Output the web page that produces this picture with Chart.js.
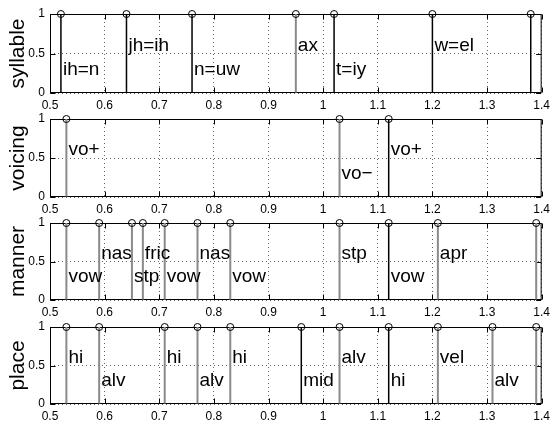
<!DOCTYPE html>
<html>
<head>
<meta charset="utf-8">
<script src="https://cdn.jsdelivr.net/npm/chart.js@4/dist/chart.umd.min.js"></script>
<style>
  body { margin: 0; background: #fff; width: 555px; height: 421px; position: relative; overflow: hidden; }
  .panel { position: absolute; left: 0; }
</style>
</head>
<body>
<div class="panel" style="top:0px"><canvas id="c-syllable" width="555" height="115"></canvas></div>
<div class="panel" style="top:105px"><canvas id="c-voicing" width="555" height="114"></canvas></div>
<div class="panel" style="top:209px"><canvas id="c-manner" width="555" height="113"></canvas></div>
<div class="panel" style="top:313px"><canvas id="c-place" width="555" height="113"></canvas></div>
<script>
// --- DATA ---
const xTicks = [0.5, 0.6, 0.7, 0.8, 0.9, 1.0, 1.1, 1.2, 1.3, 1.4];
const yTicks = [0, 0.5, 1];

// boundary times, text shown right of each boundary, text height (0.3 / 0.6), stem shade (k = black, g = gray)
const syllableTimes  = [0.52, 0.64, 0.76, 0.95, 1.02, 1.20, 1.38];
const syllableLabels = ['ih=n', 'jh=ih', 'n=uw', 'ax', 't=iy', 'w=el', ''];
const syllableLevels = [0.3, 0.6, 0.3, 0.6, 0.3, 0.6, 0.3];
const syllableShade  = ['k', 'k', 'k', 'g', 'k', 'k', 'k'];

const voicingTimes  = [0.53, 1.03, 1.12];
const voicingLabels = ['vo+', 'vo\u2212', 'vo+'];
const voicingLevels = [0.6, 0.3, 0.6];
const voicingShade  = ['g', 'g', 'k'];

const mannerTimes  = [0.53, 0.59, 0.65, 0.67, 0.71, 0.77, 0.83, 1.03, 1.12, 1.21, 1.39];
const mannerLabels = ['vow', 'nas', 'stp', 'fric', 'vow', 'nas', 'vow', 'stp', 'vow', 'apr', ''];
const mannerLevels = [0.3, 0.6, 0.3, 0.6, 0.3, 0.6, 0.3, 0.6, 0.3, 0.6, 0.3];
const mannerShade  = ['g', 'g', 'g', 'g', 'g', 'g', 'g', 'g', 'k', 'g', 'g'];

const placeTimes  = [0.53, 0.59, 0.71, 0.77, 0.83, 0.96, 1.03, 1.12, 1.21, 1.31, 1.39];
const placeLabels = ['hi', 'alv', 'hi', 'alv', 'hi', 'mid', 'alv', 'hi', 'vel', 'alv', ''];
const placeLevels = [0.6, 0.3, 0.6, 0.3, 0.6, 0.3, 0.6, 0.3, 0.6, 0.3, 0.3];
const placeShade  = ['g', 'g', 'g', 'g', 'g', 'k', 'g', 'k', 'g', 'g', 'g'];

// --- STYLE ---
const FONT = '"Liberation Sans", Arial, Helvetica, sans-serif';
const GRAY = '#8a8a8a';
const BLACK = '#000000';

function makeTier(canvasId, title, times, labels, levels, shade) {
    // box + inward ticks, drawn under the stems
    const boxPlugin = {
        id: 'box',
        beforeDatasetsDraw(chart) {
            const { ctx, chartArea: a, scales } = chart;
            const L = a.left + 0.5, R = a.right - 0.5, T = a.top + 0.5, B = a.bottom - 0.5;
            ctx.save();
            ctx.strokeStyle = BLACK;
            ctx.lineWidth = 1;
            ctx.strokeRect(L, T, R - L, B - T);
            ctx.beginPath();
            scales.x.ticks.forEach(t => {
                const px = Math.round(scales.x.getPixelForValue(t.value)) + 0.5;
                ctx.moveTo(px, B); ctx.lineTo(px, B - 5);
                ctx.moveTo(px, T); ctx.lineTo(px, T + 5);
            });
            scales.y.ticks.forEach(t => {
                const py = Math.round(scales.y.getPixelForValue(t.value)) + 0.5;
                ctx.moveTo(L, py); ctx.lineTo(L + 5, py);
                ctx.moveTo(R, py); ctx.lineTo(R - 5, py);
            });
            ctx.stroke();
            ctx.restore();
        }
    };

    // segment text next to each boundary
    const labelPlugin = {
        id: 'stemLabels',
        afterDatasetsDraw(chart) {
            const { ctx, scales } = chart;
            ctx.save();
            ctx.fillStyle = BLACK;
            ctx.font = '19px ' + FONT;
            ctx.textAlign = 'left';
            ctx.textBaseline = 'middle';
            labels.forEach((txt, i) => {
                if (!txt) return;
                ctx.fillText(txt, scales.x.getPixelForValue(times[i]) + 2, scales.y.getPixelForValue(levels[i]));
            });
            ctx.restore();
        }
    };

    const stemsOf = s => times.filter((t, i) => shade[i] === s).map(t => ({ x: t, y: 1 }));

    return new Chart(document.getElementById(canvasId), {
        type: 'scatter',
        data: {
            datasets: [
                {
                    type: 'scatter',
                    data: times.map(t => ({ x: t, y: 1 })),
                    pointStyle: 'circle',
                    pointRadius: 3.5,
                    borderColor: BLACK,
                    borderWidth: 1,
                    backgroundColor: 'rgba(0,0,0,0)',
                    clip: false
                },
                {
                    type: 'bar',
                    data: stemsOf('k'),
                    backgroundColor: BLACK,
                    barThickness: 1.5,
                    inflateAmount: 0,
                    grouped: false,
                    borderWidth: 0,
                    clip: false
                },
                {
                    type: 'bar',
                    data: stemsOf('g'),
                    backgroundColor: GRAY,
                    barThickness: 2,
                    inflateAmount: 0,
                    grouped: false,
                    borderWidth: 0,
                    clip: false
                }
            ]
        },
        options: {
            responsive: false,
            animation: false,
            events: [],
            devicePixelRatio: 1,
            layout: { padding: { left: 0, right: 10, top: 14, bottom: 0 } },
            plugins: { legend: { display: false }, tooltip: { enabled: false } },
            scales: {
                x: {
                    type: 'linear',
                    min: 0.5,
                    max: 1.4,
                    offset: false,
                    afterBuildTicks: s => { s.ticks = xTicks.map(v => ({ value: v })); },
                    afterFit: s => { s.height = 22; },
                    grid: { offset: false, drawTicks: false, color: 'rgba(0,0,0,0.6)', lineWidth: 1 },
                    border: { display: false, dash: [1, 3] },
                    ticks: {
                        autoSkip: false, maxRotation: 0, padding: 5, color: BLACK,
                        font: { family: FONT, size: 12 },
                        callback: v => String(Math.round(v * 10) / 10)
                    }
                },
                y: {
                    type: 'linear',
                    min: 0,
                    max: 1,
                    afterBuildTicks: s => { s.ticks = yTicks.map(v => ({ value: v })); },
                    afterFit: s => { s.width = 50; },
                    grid: { drawTicks: false, color: 'rgba(0,0,0,0.6)', lineWidth: 1 },
                    border: { display: false, dash: [1, 3] },
                    ticks: {
                        padding: 5, color: BLACK,
                        font: { family: FONT, size: 12 },
                        callback: v => String(v)
                    },
                    title: {
                        display: true, text: title, color: BLACK,
                        font: { family: FONT, size: 21 },
                        padding: { top: 6, bottom: 0 }
                    }
                }
            }
        },
        plugins: [boxPlugin, labelPlugin]
    });
}

makeTier('c-syllable', 'syllable', syllableTimes, syllableLabels, syllableLevels, syllableShade);
makeTier('c-voicing', 'voicing', voicingTimes, voicingLabels, voicingLevels, voicingShade);
makeTier('c-manner', 'manner', mannerTimes, mannerLabels, mannerLevels, mannerShade);
makeTier('c-place', 'place', placeTimes, placeLabels, placeLevels, placeShade);
</script>
</body>
</html>
